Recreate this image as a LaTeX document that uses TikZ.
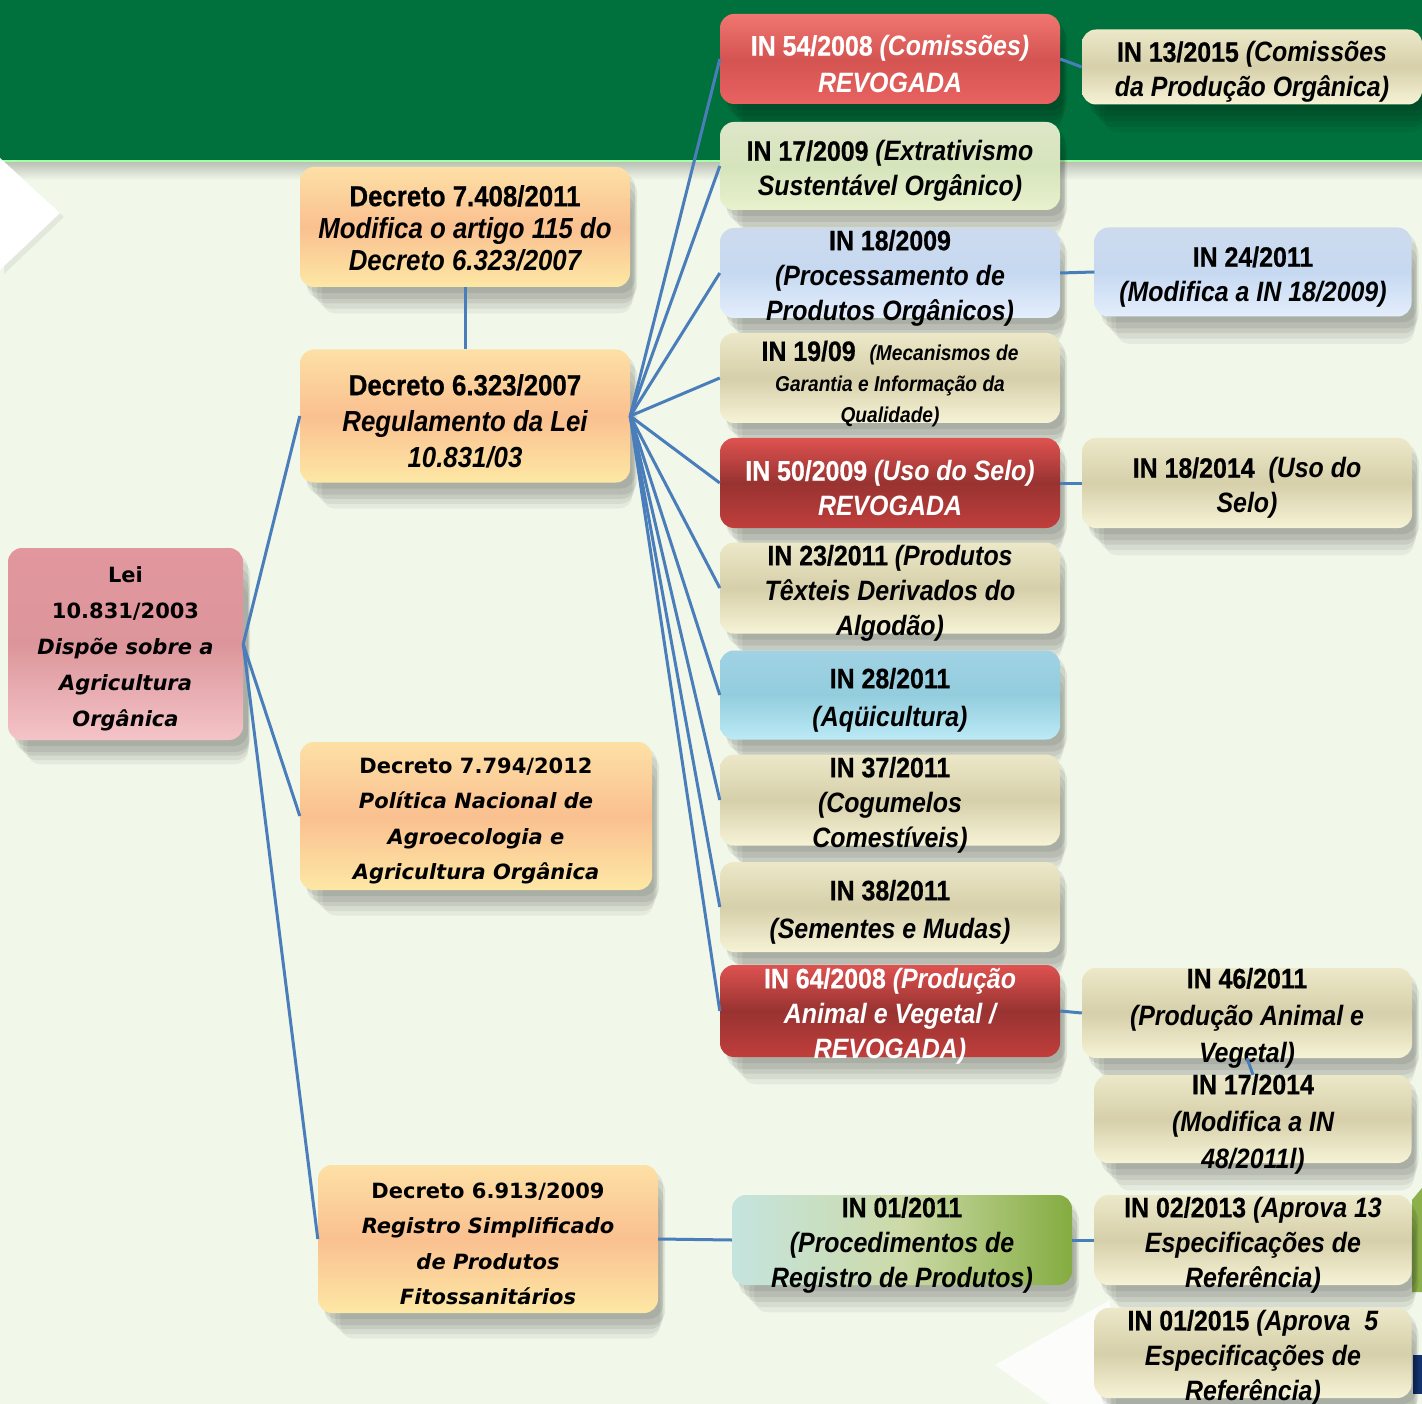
\documentclass[tikz,border=0pt]{standalone}
\usepackage{fontspec}
\newfontfamily\narrowfont[FakeStretch=0.89,BoldFeatures={FakeBold=0.6}]{Liberation Sans}
\newfontfamily\widefont[BoldFont={DejaVu Sans Bold},BoldItalicFont={DejaVu Sans Bold Oblique},ItalicFont={DejaVu Sans Oblique}]{DejaVu Sans}
\usetikzlibrary{shadows}

\definecolor{bandgreen}{RGB}{0,112,60}
\definecolor{paper}{RGB}{241,247,233}
\definecolor{linkblue}{RGB}{74,126,187}
\definecolor{olivepatch}{RGB}{140,176,74}
\definecolor{navypatch}{RGB}{20,50,110}
\definecolor{peachtop}{RGB}{253,224,165}
\definecolor{peachmid}{RGB}{250,192,144}
\definecolor{peachbot}{RGB}{253,232,165}
\definecolor{pinktop}{RGB}{226,150,158}
\definecolor{pinkmid}{RGB}{220,150,155}
\definecolor{pinkbot}{RGB}{244,196,200}
\definecolor{redtop}{RGB}{240,118,112}
\definecolor{redmid}{RGB}{212,84,82}
\definecolor{redbot}{RGB}{232,98,96}
\definecolor{dredtop}{RGB}{222,82,80}
\definecolor{dredmid}{RGB}{152,51,49}
\definecolor{dredbot}{RGB}{192,62,60}
\definecolor{greentop}{RGB}{222,230,200}
\definecolor{greenmid}{RGB}{214,228,188}
\definecolor{greenbot}{RGB}{232,242,205}
\definecolor{bluetop}{RGB}{205,218,238}
\definecolor{bluemid}{RGB}{198,217,241}
\definecolor{bluebot}{RGB}{228,238,252}
\definecolor{tantop}{RGB}{236,232,200}
\definecolor{tanmid}{RGB}{214,207,170}
\definecolor{tanbot}{RGB}{246,243,214}
\definecolor{cyantop}{RGB}{160,210,228}
\definecolor{cyanmid}{RGB}{147,205,221}
\definecolor{cyanbot}{RGB}{188,234,246}
\definecolor{mixleft}{RGB}{196,228,222}
\definecolor{mixmid}{RGB}{205,218,168}
\definecolor{mixright}{RGB}{132,172,64}

\tikzset{
  lawbox/.style={rectangle, rounded corners=14pt, inner sep=0pt,
    drop shadow={shadow xshift=5pt, shadow yshift=-6pt, opacity=.07, fill=black},
    drop shadow={shadow xshift=7pt, shadow yshift=-12pt, opacity=.07, fill=black},
    drop shadow={shadow xshift=9pt, shadow yshift=-18pt, shadow scale=.98, opacity=.07, fill=black},
    drop shadow={shadow xshift=11pt, shadow yshift=-25pt, shadow scale=.96, opacity=.06, fill=black},
    drop shadow={shadow xshift=13pt, shadow yshift=-32pt, shadow scale=.94, opacity=.05, fill=black}},
  txt/.style={align=center, yshift=-5pt, font=\narrowfont\bfseries\fontsize{28}{35}\selectfont},
  wtxt/.style={align=center, yshift=-5pt, font=\widefont\bfseries\fontsize{21}{36}\selectfont},
  wlabel/.style={txt, text=white},
  peachfill/.style={top color=peachtop, bottom color=peachbot, middle color=peachmid},
  pinkfill/.style={top color=pinktop, bottom color=pinkbot, middle color=pinkmid},
  redfill/.style={top color=redtop, bottom color=redbot, middle color=redmid},
  darkredfill/.style={top color=dredtop, bottom color=dredbot, middle color=dredmid},
  greenfill/.style={top color=greentop, bottom color=greenbot, middle color=greenmid},
  bluefill/.style={top color=bluetop, bottom color=bluebot, middle color=bluemid},
  tanfill/.style={top color=tantop, bottom color=tanbot, middle color=tanmid},
  cyanfill/.style={top color=cyantop, bottom color=cyanbot, middle color=cyanmid},
  mixfill/.style={left color=mixleft, right color=mixright, middle color=mixmid},
  link/.style={linkblue, line width=3pt}
}

\begin{document}
\begin{tikzpicture}[x=1pt,y=-1pt]
\useasboundingbox (0,0) rectangle (1422,1404);

% background
\fill[paper] (0,0) rectangle (1422,1404);
\fill[bandgreen] (0,0) rectangle (1422,160);
\shade[top color=black!22!paper, bottom color=paper] (0,162) rectangle (1422,180);
\draw[green!35!white, line width=2pt] (0,161) -- (1422,161);
\fill[white, drop shadow={shadow xshift=4pt, shadow yshift=-4pt, opacity=.12}] (0,158) -- (60,213) -- (0,270) -- cycle;
\fill[white, opacity=.8] (1110,1300) -- (995,1365) -- (1050,1404) -- (1110,1404) -- cycle;
\fill[olivepatch] (1412,1200) -- (1422,1188) -- (1422,1292) -- (1412,1292) -- cycle;
\fill[navypatch] (1413,1355) rectangle (1422,1394);

% decretos and lei
\node[lawbox, peachfill, minimum width=330pt, minimum height=120pt,
  label={[txt, yshift=4pt, font=\narrowfont\bfseries\fontsize{29}{32}\selectfont]center:{Decreto 7.408/2011\\\itshape Modifica o artigo 115 do\\\itshape Decreto 6.323/2007}}] (d7408) at (465,227) {};
\node[lawbox, peachfill, minimum width=330pt, minimum height=133pt,
  label={[txt, font=\narrowfont\bfseries\fontsize{29}{36}\selectfont]center:{Decreto 6.323/2007\\\itshape Regulamento da Lei\\\itshape 10.831/03}}] (d6323) at (465,416) {};
\node[lawbox, pinkfill, minimum width=235pt, minimum height=192pt,
  label={[wtxt]center:{Lei\\10.831/2003\\\itshape Dispõe sobre a\\\itshape Agricultura\\\itshape Orgânica}}] (lei) at (125.5,644) {};
\node[lawbox, peachfill, minimum width=352pt, minimum height=148pt,
  label={[wtxt, font=\widefont\bfseries\fontsize{21}{35.5}\selectfont]center:{Decreto 7.794/2012\\\itshape Política Nacional de\\\itshape Agroecologia e\\\itshape Agricultura Orgânica}}] (d7794) at (476,816) {};
\node[lawbox, peachfill, minimum width=340pt, minimum height=148pt,
  label={[wtxt, font=\widefont\bfseries\fontsize{21}{35.5}\selectfont]center:{Decreto 6.913/2009\\\itshape Registro Simplificado\\\itshape de Produtos\\\itshape Fitossanitários}}] (d6913) at (488,1239) {};

% instrucoes normativas
\node[lawbox, redfill, minimum width=340pt, minimum height=90pt,
  label={[wlabel, font=\narrowfont\bfseries\fontsize{28}{37}\selectfont]center:{IN 54/2008 \textit{(Comissões)}\\\itshape REVOGADA}}] (in54) at (890,59) {};
\node[lawbox, greenfill, minimum width=340pt, minimum height=88pt,
  label={[txt]center:{IN 17/2009 \textit{(Extrativismo}\\\itshape Sustentável Orgânico)}}] (in17a) at (890,166) {};
\node[lawbox, bluefill, minimum width=340pt, minimum height=90pt,
  label={[txt]center:{IN 18/2009\\\itshape (Processamento de\\\itshape Produtos Orgânicos)}}] (in18a) at (890,273) {};
\node[lawbox, tanfill, minimum width=340pt, minimum height=90pt,
  label={[txt, yshift=-1pt]center:{IN 19/09\ \ {\fontsize{21.5}{29}\selectfont\itshape (Mecanismos de}\\[-4pt]\fontsize{21.5}{29}\selectfont\itshape Garantia e Informação da\\[-4pt]\fontsize{21.5}{29}\selectfont\itshape Qualidade)}}] (in19) at (890,378) {};
\node[lawbox, darkredfill, minimum width=340pt, minimum height=90pt,
  label={[wlabel]center:{IN 50/2009\ \textit{(Uso do Selo)}\\\itshape REVOGADA}}] (in50) at (890,483) {};
\node[lawbox, tanfill, minimum width=340pt, minimum height=91pt,
  label={[txt]center:{IN 23/2011\ \textit{(Produtos}\\\itshape Têxteis Derivados do\\\itshape Algodão)}}] (in23) at (890,588) {};
\node[lawbox, cyanfill, minimum width=340pt, minimum height=89pt,
  label={[txt, font=\narrowfont\bfseries\fontsize{28}{38}\selectfont]center:{IN 28/2011\\\itshape (Aqüicultura)}}] (in28) at (890,695) {};
\node[lawbox, tanfill, minimum width=340pt, minimum height=91pt,
  label={[txt]center:{IN 37/2011\\\itshape (Cogumelos\\\itshape Comestíveis)}}] (in37) at (890,800) {};
\node[lawbox, tanfill, minimum width=340pt, minimum height=90pt,
  label={[txt, font=\narrowfont\bfseries\fontsize{28}{38}\selectfont]center:{IN 38/2011\\\itshape (Sementes e Mudas)}}] (in38) at (890,907) {};
\node[lawbox, darkredfill, minimum width=340pt, minimum height=92pt,
  label={[wlabel]center:{IN 64/2008\ \textit{(Produção}\\\itshape Animal e Vegetal /\\\itshape REVOGADA)}}] (in64) at (890,1011) {};
\node[lawbox, mixfill, minimum width=340pt, minimum height=90pt,
  label={[txt]center:{IN 01/2011\\\itshape (Procedimentos de\\\itshape Registro de Produtos)}}] (in01a) at (902,1240) {};

% segunda coluna
\node[lawbox, tanfill, minimum width=340pt, minimum height=75pt,
  label={[txt]center:{IN 13/2015 \textit{(Comissões}\\\itshape da Produção Orgânica)}}] (in13) at (1252,67) {};
\node[lawbox, bluefill, minimum width=317pt, minimum height=89pt,
  label={[txt]center:{IN 24/2011\\\itshape (Modifica a IN 18/2009)}}] (in24) at (1253,272) {};
\node[lawbox, tanfill, minimum width=330pt, minimum height=90pt,
  label={[txt]center:{IN 18/2014\ \ \textit{(Uso do}\\\itshape Selo)}}] (in18b) at (1247,483) {};
\node[lawbox, tanfill, minimum width=330pt, minimum height=90pt,
  label={[txt, font=\narrowfont\bfseries\fontsize{28}{37}\selectfont]center:{IN 46/2011\\\itshape (Produção Animal e\\\itshape Vegetal)}}] (in46) at (1247,1013) {};
\node[lawbox, tanfill, minimum width=317pt, minimum height=88pt,
  label={[txt, font=\narrowfont\bfseries\fontsize{28}{37}\selectfont]center:{IN 17/2014\\\itshape (Modifica a IN\\\itshape 48/2011l)}}] (in17b) at (1253,1119) {};
\node[lawbox, tanfill, minimum width=317pt, minimum height=90pt,
  label={[txt]center:{IN 02/2013\ \textit{(Aprova 13}\\\itshape Especificações de\\\itshape Referência)}}] (in02) at (1253,1240) {};
\node[lawbox, tanfill, minimum width=317pt, minimum height=90pt,
  label={[txt]center:{IN 01/2015 \textit{(Aprova\ \ 5}\\\itshape Especificações de\\\itshape Referência)}}] (in01b) at (1253,1353) {};

% ligacoes
\draw[link] (lei.east) -- (d6323.west);
\draw[link] (lei.east) -- (d7794.west);
\draw[link] (lei.east) -- (d6913.west);
\draw[link] (d7408.south) -- (d6323.north);
\foreach \n in {in54,in17a,in18a,in19,in50,in23,in28,in37,in38,in64}
  \draw[link] (d6323.east) -- (\n.west);
\draw[link] (in54.east) -- (in13.west);
\draw[link] (in18a.east) -- (in24.west);
\draw[link] (in50.east) -- (in18b.west);
\draw[link] (in64.east) -- (in46.west);
\draw[link] (in46.south) -- (in17b.north);
\draw[link] (d6913.east) -- (in01a.west);
\draw[link] (in01a.east) -- (in02.west);
\end{tikzpicture}
\end{document}
